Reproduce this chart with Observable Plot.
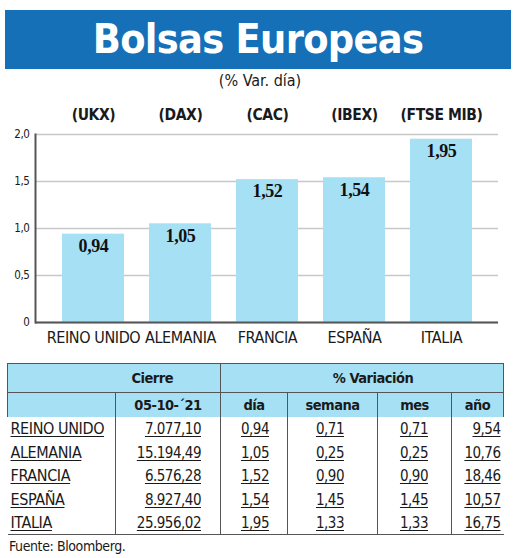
<!DOCTYPE html>
<html>
<head>
<meta charset="utf-8">
<script src="https://cdn.jsdelivr.net/npm/d3@7"></script>
<script src="https://cdn.jsdelivr.net/npm/@observablehq/plot@0.6"></script>
<style>
  html, body { margin: 0; padding: 0; background: #fff; }
  #page { position: relative; width: 520px; height: 558px; font-family: "DejaVu Sans Condensed", "Liberation Sans Narrow", sans-serif; color: #1a1a1a; }
  #banner { position: absolute; left: 5px; top: 10px; width: 506px; height: 59px; background: #1570b8; color: #fff;
    font-weight: bold; font-size: 41px; line-height: 59px; text-align: center; letter-spacing: -0.7px; }
  #sub { position: absolute; left: 0; width: 520px; top: 71px; text-align: center; font-size: 16px; }
  #chart { position: absolute; left: 0; top: 95px; }
  #tbl { position: absolute; left: 7px; top: 363px; border-collapse: collapse; table-layout: fixed; width: 496px; font-size: 15px; letter-spacing: -0.5px; }
  #tbl td { padding: 0; box-sizing: border-box; white-space: nowrap; }
  #tbl tr.h td { background: #a6e0f5; font-weight: bold; text-align: center; font-size: 14.5px; }
  #tbl tr.h1 td { height: 29px; border-top: 1px solid #555; border-bottom: 1px solid #555; }
  #tbl tr.h2 td { height: 24px; }
  #tbl tr.d td { height: 23.6px; vertical-align: bottom; padding-bottom: 1px; line-height: 20px; }
  #tbl tr.d td.name { font-size: 16px; letter-spacing: -0.4px; }
  #tbl tr.d td span { text-decoration: underline; text-decoration-thickness: 1px; text-underline-offset: 2px; }
  #tbl tr.last td { border-bottom: 1.5px solid #555; }
  #tbl td.vl { border-left: 1px solid #555; }
  #tbl td.first { border-left: 1px solid #555; }
  #tbl td.lastc { border-right: 1px solid #555; }
  #fuente { position: absolute; left: 9px; top: 538px; font-size: 14px; letter-spacing: -0.4px; }
</style>
</head>
<body>
<div id="page">
  <div id="banner">Bolsas Europeas</div>
  <div id="sub">(% Var. día)</div>
  <div id="chart"></div>
  <table id="tbl"></table>
  <div id="fuente">Fuente: Bloomberg.</div>
</div>
<script>
const paises = ["REINO UNIDO", "ALEMANIA", "FRANCIA", "ESPAÑA", "ITALIA"];
const indices = ["(UKX)", "(DAX)", "(CAC)", "(IBEX)", "(FTSE MIB)"];
const varDia = [0.94, 1.05, 1.52, 1.54, 1.95];
const cierre = ["7.077,10", "15.194,49", "6.576,28", "8.927,40", "25.956,02"];
const varSemana = [0.71, 0.25, 0.90, 1.45, 1.33];
const varMes = [0.71, 0.25, 0.90, 1.45, 1.33];
const varAnio = [9.54, 10.76, 18.46, 10.57, 16.75];
const yTicks = [0, 0.5, 1, 1.5, 2];
const fechaCierre = "05-10-´21";

const fmt2 = v => v.toFixed(2).replace(".", ",");
const fmtTick = v => v === 0 ? "0" : v.toFixed(1).replace(".", ",");

const data = paises.map((p, i) => ({pais: p, indice: indices[i], v: varDia[i]}));

const chart = Plot.plot({
  width: 520,
  height: 260,
  marginTop: 39,
  marginBottom: 33,
  marginLeft: 35,
  marginRight: 22,
  style: {fontFamily: "'DejaVu Sans Condensed', sans-serif", background: "transparent", color: "#1a1a1a", letterSpacing: "-0.4px"},
  x: {domain: paises, padding: 0.29},
  y: {domain: [0, 2]},
  marks: [
    Plot.gridY(yTicks, {stroke: "#c8c8c8", strokeOpacity: 1, strokeWidth: 1.5}),
    Plot.barY(data, {x: "pais", y: "v", fill: "#a6e0f5"}),
    Plot.text(data, {x: "pais", y: "v", text: d => fmt2(d.v), dy: 12, fontSize: 18, fontWeight: "bold",
      fontFamily: "'Liberation Serif', 'DejaVu Serif', serif", fill: "#111"}),
    Plot.ruleY([0], {stroke: "#555", strokeWidth: 2}),
    Plot.frame({anchor: "left", stroke: "#555", strokeWidth: 2}),
    Plot.axisY(yTicks, {tickSize: 0, tickPadding: 6, tickFormat: fmtTick, fontSize: 11.5, label: null}),
    Plot.axisX({anchor: "bottom", tickSize: 0, tickPadding: 9, fontSize: 16, label: null}),
    Plot.axisX({anchor: "top", tickSize: 0, tickPadding: 15, fontSize: 15.5, fontWeight: "bold", label: null,
      tickFormat: d => indices[paises.indexOf(d)]})
  ]
});
document.getElementById("chart").appendChild(chart);

// table
const tbl = document.getElementById("tbl");
const colW = [108, 105, 67, 90, 74, 52];
let html = "<colgroup>" + colW.map(w => `<col style="width:${w}px">`).join("") + "</colgroup>";
html += `<tr class="h h1"><td colspan="2" class="first" style="text-align:right;padding-right:47px">Cierre</td>` +
        `<td colspan="4" class="vl lastc" style="padding-left:22px">% Variación</td></tr>`;
html += `<tr class="h h2"><td class="first"></td><td class="vl">${fechaCierre}</td><td class="vl">día</td>` +
        `<td class="vl">semana</td><td class="vl">mes</td><td class="vl lastc">año</td></tr>`;
const padR = [0, 19, 18, 33, 23, 3];
paises.forEach((p, i) => {
  const cells = [p, cierre[i], fmt2(varDia[i]), fmt2(varSemana[i]), fmt2(varMes[i]), fmt2(varAnio[i])];
  const cls = i === paises.length - 1 ? "d last" : "d";
  html += `<tr class="${cls}">` + cells.map((c, j) =>
    j === 0 ? `<td class="name" style="text-align:left;padding-left:3px"><span>${c}</span></td>`
            : `<td class="vl" style="text-align:right;padding-right:${padR[j]}px"><span>${c}</span></td>`
  ).join("") + "</tr>";
});
tbl.innerHTML = html;
</script>
</body>
</html>
